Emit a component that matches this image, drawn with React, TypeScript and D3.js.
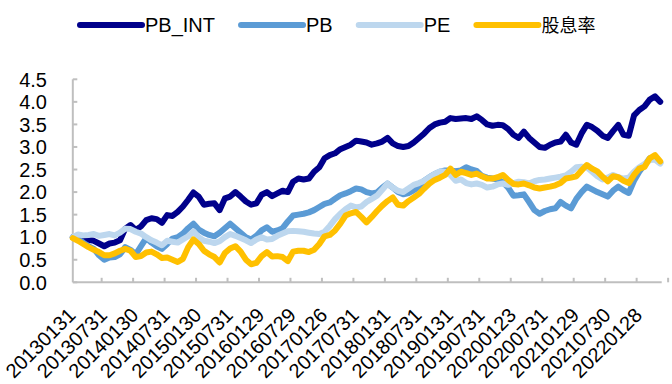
import { useRef, useEffect } from "react";
import * as d3 from "d3";

const seriesNames = ["PB_INT", "PB", "PE", "股息率"];
const seriesColors = ["#00008B", "#5B9BD5", "#BDD7EE", "#FFC000"];

// monthly, 201301 .. 202205
const pbInt = [
  1.0, 0.98, 0.96, 0.94, 0.92, 0.86, 0.8, 0.86, 0.88, 0.93, 1.19, 1.27, 1.16, 1.24, 1.38, 1.42, 1.4, 1.32, 1.49, 1.47,
  1.56, 1.68, 1.83, 1.99, 1.9, 1.72, 1.74, 1.75, 1.6, 1.86, 1.9, 2.0, 1.9, 1.79, 1.72, 1.75, 1.94, 2.0, 1.91, 1.97,
  2.03, 2.0, 2.23, 2.3, 2.28, 2.3, 2.45, 2.55, 2.75, 2.82, 2.86, 2.95, 3.0, 3.05, 3.14, 3.12, 3.1, 3.05, 3.08, 3.12,
  3.2, 3.08, 3.02, 3.0, 3.02, 3.1, 3.2, 3.3, 3.42, 3.5, 3.54, 3.56, 3.64, 3.62, 3.63, 3.64, 3.62, 3.68, 3.6, 3.5,
  3.47, 3.49, 3.48, 3.4, 3.27, 3.2, 3.34, 3.2, 3.1, 3.0, 2.98, 3.05, 3.1, 3.12, 3.27, 3.1, 3.05, 3.3, 3.49, 3.44,
  3.36, 3.25, 3.2, 3.35, 3.49, 3.27, 3.25, 3.7, 3.82, 3.9, 4.05, 4.12, 4.0,
];
const pb = [
  1.0, 0.95, 0.88, 0.8, 0.74, 0.6, 0.5, 0.55, 0.56, 0.62, 0.78, 0.72, 0.62, 0.8, 0.98, 0.88, 0.8, 0.74, 0.85, 0.97,
  1.0, 1.08, 1.2, 1.3, 1.17, 1.1, 1.05, 1.02, 1.1, 1.2, 1.3, 1.2, 1.1, 1.0, 0.95, 1.03, 1.15, 1.22, 1.12, 1.15,
  1.2, 1.35, 1.48, 1.5, 1.52, 1.55, 1.6, 1.67, 1.74, 1.77, 1.85, 1.93, 1.97, 2.02, 2.08, 2.06, 2.0, 1.97, 1.99, 2.1,
  2.19, 2.1, 2.0, 1.95, 1.98, 2.04, 2.12, 2.25, 2.33, 2.4, 2.45, 2.48, 2.48, 2.46, 2.48, 2.55, 2.5, 2.47, 2.36, 2.32,
  2.3, 2.28, 2.22, 2.1, 1.92, 1.93, 1.95, 1.78, 1.6, 1.52, 1.58, 1.62, 1.64, 1.78, 1.7, 1.64, 1.85, 2.0, 2.12, 2.06,
  2.0, 1.95, 1.9, 2.03, 2.12, 2.04, 1.98, 2.25, 2.45, 2.6, 2.75, 2.75, 2.65,
];
const pe = [
  1.0, 1.06, 1.04, 1.05, 1.07, 1.03, 1.05, 1.07, 1.04, 1.1, 1.19, 1.18, 1.12, 1.08, 1.0, 0.93, 0.88, 0.82, 0.92, 0.9,
  0.88, 0.95, 1.02, 1.13, 1.0, 0.92, 0.9, 0.87, 0.91, 1.0, 1.07, 1.03, 0.98, 0.93, 0.87, 0.95, 1.0, 0.95, 0.96, 1.03,
  1.08, 1.13, 1.14, 1.13, 1.12, 1.1, 1.08, 1.07, 1.12, 1.25, 1.4, 1.52, 1.62, 1.7, 1.66, 1.68, 1.78, 1.85, 1.92, 2.05,
  2.19, 2.1, 2.03, 2.0, 2.08, 2.16, 2.2, 2.25, 2.33, 2.4, 2.46, 2.45, 2.38, 2.25, 2.28, 2.2, 2.17, 2.19, 2.16, 2.1,
  2.12, 2.17, 2.19, 2.16, 2.2, 2.23, 2.22, 2.19, 2.24, 2.27, 2.28, 2.3, 2.32, 2.34, 2.37, 2.45, 2.55, 2.56, 2.55, 2.45,
  2.35, 2.28, 2.32, 2.38, 2.33, 2.3, 2.32, 2.45, 2.55, 2.62, 2.71, 2.72, 2.63,
];
const dividend = [
  0.98, 0.92, 0.85, 0.78, 0.72, 0.67, 0.6, 0.6, 0.64, 0.7, 0.74, 0.7, 0.56, 0.58, 0.66, 0.68, 0.62, 0.54, 0.55, 0.5,
  0.45, 0.52, 0.78, 0.95, 0.85, 0.7, 0.62, 0.56, 0.44, 0.65, 0.75, 0.8, 0.68, 0.5, 0.4, 0.43, 0.58, 0.67, 0.57, 0.58,
  0.56, 0.47, 0.68, 0.7, 0.7, 0.67, 0.72, 0.85, 1.02, 1.05, 1.15, 1.3, 1.48, 1.53, 1.56, 1.45, 1.33, 1.45, 1.58, 1.7,
  1.8, 1.88, 1.72, 1.7, 1.8, 1.88, 1.96, 2.08, 2.19, 2.27, 2.32, 2.38, 2.52, 2.38, 2.45, 2.42, 2.38, 2.41, 2.35, 2.3,
  2.3, 2.33, 2.38, 2.27, 2.18, 2.17, 2.19, 2.15, 2.1, 2.08, 2.1, 2.12, 2.15, 2.2, 2.3, 2.32, 2.35, 2.48, 2.6, 2.52,
  2.46, 2.34, 2.24, 2.35, 2.33, 2.25, 2.2, 2.38, 2.52, 2.56, 2.75, 2.82, 2.68,
];

// one label every 6 months
const tickLabels = [
  "20130131", "20130731", "20140130", "20140731", "20150130", "20150731", "20160129", "20160729",
  "20170126", "20170731", "20180131", "20180731", "20190131", "20190731", "20200123", "20200731",
  "20210129", "20210730", "20220128",
];
const yTicks = [0, 0.5, 1, 1.5, 2, 2.5, 3, 3.5, 4, 4.5];

const W = 672;
const H = 384;
const FONT = "'Liberation Sans', Arial, sans-serif";

export default function App() {
  const svgRef = useRef<SVGSVGElement | null>(null);

  useEffect(() => {
    if (!svgRef.current) return;
    const svg = d3.select(svgRef.current);
    svg.selectAll("*").remove();

    const left = 72.8;
    const step = 5.245;
    const n = pbInt.length;
    const x = d3.scaleLinear().domain([0, n - 1]).range([left, left + step * (n - 1)]);
    const y = d3.scaleLinear().domain([0, 4.5]).range([282.3, 79.3]);
    const axisRight = 661.7;
    const axisColor = "#BFBFBF";

    // y axis
    svg.append("line")
      .attr("x1", left).attr("x2", left)
      .attr("y1", y(4.5)).attr("y2", y(0))
      .attr("stroke", axisColor).attr("stroke-width", 2);
    svg.selectAll(".ytick")
      .data(yTicks)
      .join("line")
      .attr("x1", left).attr("x2", left + 4.5)
      .attr("y1", (d) => y(d)).attr("y2", (d) => y(d))
      .attr("stroke", axisColor).attr("stroke-width", 2);
    svg.selectAll(".ylab")
      .data(yTicks)
      .join("text")
      .attr("x", 47)
      .attr("y", (d) => y(d))
      .attr("dy", "0.36em")
      .attr("text-anchor", "end")
      .attr("font-family", FONT)
      .attr("font-size", 20)
      .attr("fill", "#000")
      .text((d) => d.toFixed(1));

    // x axis
    svg.append("line")
      .attr("x1", left).attr("x2", axisRight)
      .attr("y1", y(0)).attr("y2", y(0))
      .attr("stroke", axisColor).attr("stroke-width", 2);
    const tickIdx = tickLabels.map((_, k) => k * 6 + 5.5);
    svg.selectAll(".xtick")
      .data(tickIdx)
      .join("line")
      .attr("x1", (d) => x(d)).attr("x2", (d) => x(d))
      .attr("y1", y(0)).attr("y2", y(0) - 4.5)
      .attr("stroke", axisColor).attr("stroke-width", 2);
    svg.selectAll(".xlab")
      .data(tickLabels)
      .join("text")
      .attr("transform", (_, k) => `translate(${x(k * 6) + 4},${y(0) + 34}) rotate(-45)`)
      .attr("text-anchor", "end")
      .attr("font-family", FONT)
      .attr("font-size", 20)
      .attr("fill", "#000")
      .text((d) => d);

    // lines
    const all = [pbInt, pb, pe, dividend];
    const line = d3.line<number>().x((_, i) => x(i)).y((d) => y(d));
    all.forEach((s, k) => {
      svg.append("path")
        .datum(s)
        .attr("fill", "none")
        .attr("stroke", seriesColors[k])
        .attr("stroke-width", 6)
        .attr("stroke-linejoin", "round")
        .attr("stroke-linecap", "round")
        .attr("d", line);
    });

    // legend
    let lx = 80;
    const ly = 25;
    seriesNames.forEach((name, k) => {
      svg.append("line")
        .attr("x1", lx).attr("x2", lx + 62)
        .attr("y1", ly).attr("y2", ly)
        .attr("stroke", seriesColors[k])
        .attr("stroke-width", 6)
        .attr("stroke-linecap", "round");
      const t = svg.append("text")
        .attr("x", lx + 65)
        .attr("y", ly + 7)
        .attr("font-family", k === 3 ? "'Noto Sans CJK SC', sans-serif" : FONT)
        .attr("font-size", k === 3 ? 18 : 20)
        .attr("fill", "#000")
        .text(name);
      const tw = (t.node() as SVGTextElement).getComputedTextLength();
      lx += 65 + tw + 26;
    });
  }, []);

  return (
    <svg
      ref={svgRef}
      width={W}
      height={H}
      style={{ position: "absolute", left: 0, top: 0, background: "#fff" }}
    />
  );
}
